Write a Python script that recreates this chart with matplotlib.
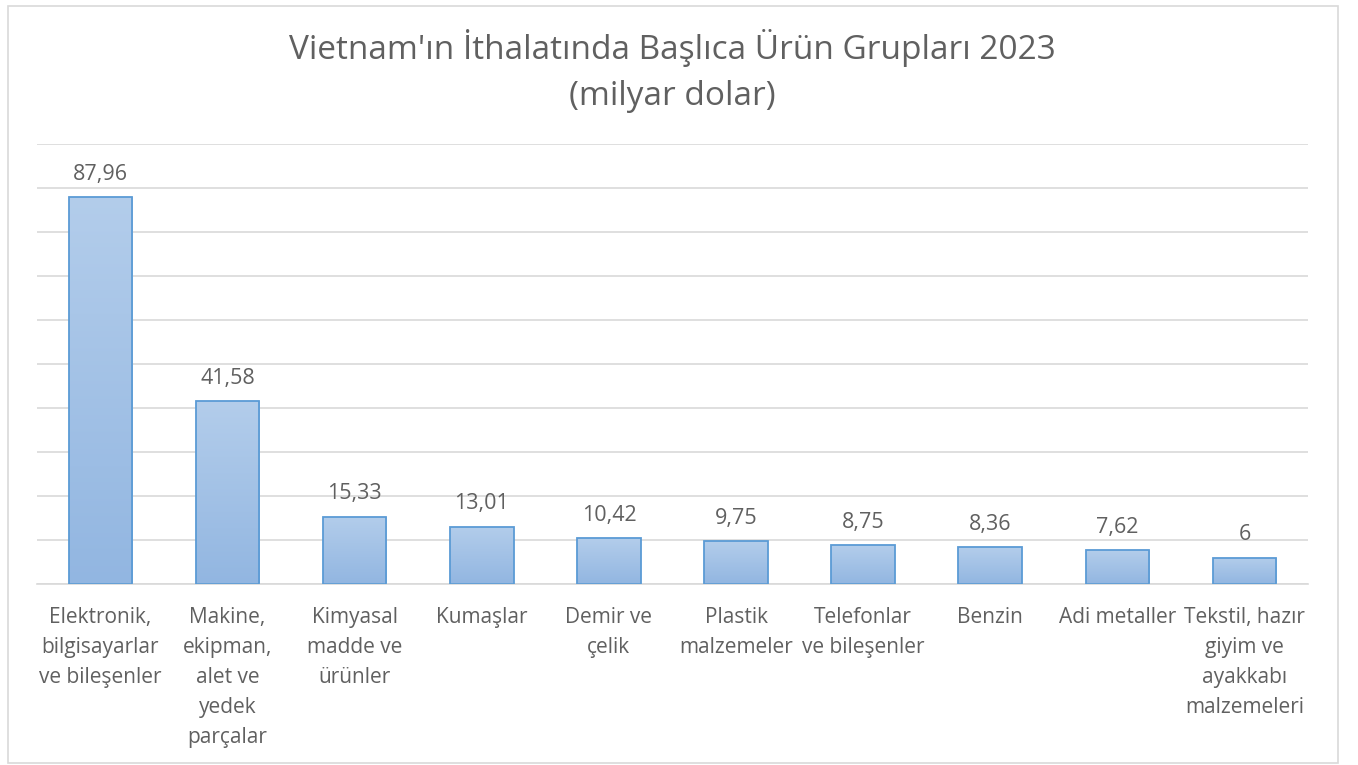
import numpy as np
import matplotlib.pyplot as plt
from matplotlib.patches import Rectangle
from matplotlib.colors import LinearSegmentedColormap

plt.rcParams['font.family'] = ['Open Sans', 'DejaVu Sans']

categories = ['Elektronik,\nbilgisayarlar\nve bileşenler',
              'Makine,\nekipman,\nalet ve\nyedek\nparçalar',
              'Kimyasal\nmadde ve\nürünler',
              'Kumaşlar',
              'Demir ve\nçelik',
              'Plastik\nmalzemeler',
              'Telefonlar\nve bileşenler',
              'Benzin',
              'Adi metaller',
              'Tekstil, hazır\ngiyim ve\nayakkabı\nmalzemeleri']
values = [87.96, 41.58, 15.33, 13.01, 10.42, 9.75, 8.75, 8.36, 7.62, 6]
labels = ['87,96', '41,58', '15,33', '13,01', '10,42', '9,75', '8,75', '8,36', '7,62', '6']

textc = '#606060'
fig = plt.figure(figsize=(13.58, 7.65), dpi=100)
ax = fig.add_axes([0.0272, 0.2366, 0.9360, 0.5752])

# outer chart border
fig.patches.append(Rectangle((0.006, 0.003), 0.979, 0.989, transform=fig.transFigure,
                             fill=False, edgecolor='#d9d9d9', linewidth=1.2))

x = np.arange(len(values))
bars = ax.bar(x, values, width=0.5, color='none', edgecolor='#5b9bd5', linewidth=1.3, zorder=3)

# vertical gradient inside each bar, light on top
grad = np.linspace(0, 1, 256).reshape(-1, 1)
cmap = LinearSegmentedColormap.from_list('g', ['#b3cdeb', '#92b6e1'])
for b in bars:
    x0, w, h = b.get_x(), b.get_width(), b.get_height()
    im = ax.imshow(grad, extent=(x0, x0 + w, 0, h), origin='upper', cmap=cmap,
                   aspect='auto', zorder=2)
    im.set_clip_path(b)

for xi, v, lab in zip(x, values, labels):
    ax.text(xi, v + 5.2, lab, ha='center', va='center', fontsize=15.5, color=textc)

ax.set_xlim(-0.5, len(values) - 0.5)
ax.set_ylim(0, 100)
ax.set_yticks(np.arange(0, 101, 10))
ax.yaxis.grid(True, color='#d9d9d9', linewidth=1.2, zorder=0)
ax.set_axisbelow(True)
ax.tick_params(axis='y', left=False, labelleft=False)
ax.tick_params(axis='x', bottom=False, pad=13)
ax.set_xticks(x)
ax.set_xticklabels(categories, fontsize=15, color=textc, linespacing=1.56, va='top')
for s in ['top', 'right', 'left']:
    ax.spines[s].set_visible(False)
ax.spines['bottom'].set_color('#d9d9d9')
ax.spines['bottom'].set_linewidth(1.2)

fig.text(0.4948, 0.907, "Vietnam'ın İthalatında Başlıca Ürün Grupları 2023\n(milyar dolar)",
         ha='center', va='center', fontsize=24, color=textc, linespacing=1.52)

fig.savefig('out.png', dpi=100)
